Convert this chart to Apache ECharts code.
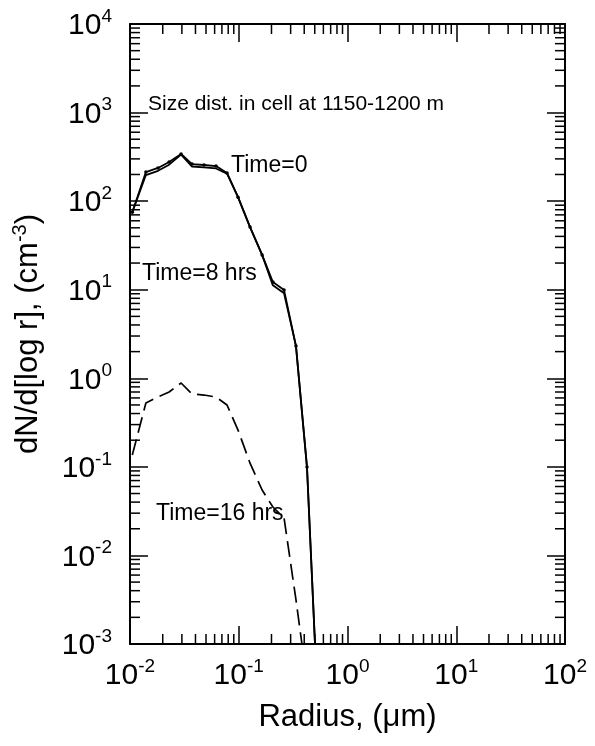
<!DOCTYPE html>
<html><head><meta charset="utf-8">
<script src="https://cdn.jsdelivr.net/npm/echarts@6/dist/echarts.min.js"></script>
<style>html,body{margin:0;padding:0;background:#fff}#c{width:595px;height:746px}</style>
</head><body><div id="c"></div>
<script>
// ---- data ----
const radius = [0.0105, 0.0140, 0.0181, 0.0229, 0.0295, 0.0372, 0.0479, 0.0618, 0.078, 0.0985, 0.127, 0.164, 0.206, 0.261, 0.336, 0.424, 0.547];
const time0  = [75, 213, 237, 277, 341, 262, 256, 249, 208, 111, 51, 24.7, 12.2, 9.9, 2.31, 0.0995, 0.0001];
const time8  = [75, 197, 220, 258, 335, 246, 240, 234, 204, 111, 51, 24.7, 11.2, 9.1, 2.31, 0.0995, 0.0001];
const time16 = [0.136, 0.526, 0.615, 0.70, 0.885, 0.664, 0.647, 0.615, 0.499, 0.26, 0.110, 0.0548, 0.0352, 0.0264, 0.00314, 0.00038];
const xMajorTicks = [0.01, 0.1, 1, 10, 100];
const yMajorTicks = [0.001, 0.01, 0.1, 1, 10, 100, 1000, 10000];
const xMinorTicks = [0.02,0.03,0.04,0.05,0.06,0.07,0.08,0.09, 0.2,0.3,0.4,0.5,0.6,0.7,0.8,0.9, 2,3,4,5,6,7,8,9, 20,30,40,50,60,70,80,90];
const yMinorTicks = [0.002,0.003,0.004,0.005,0.006,0.007,0.008,0.009, 0.02,0.03,0.04,0.05,0.06,0.07,0.08,0.09, 0.2,0.3,0.4,0.5,0.6,0.7,0.8,0.9, 2,3,4,5,6,7,8,9, 20,30,40,50,60,70,80,90, 200,300,400,500,600,700,800,900, 2000,3000,4000,5000,6000,7000,8000,9000];
const annotations = [
  {text: 'Size dist. in cell at 1150-1200 m', x: 148, y: 104, size: 21},
  {text: 'Time=0', x: 231, y: 166, size: 23},
  {text: 'Time=8 hrs', x: 142, y: 274, size: 23},
  {text: 'Time=16 hrs', x: 156, y: 514, size: 23}
];

const FONT = '"Liberation Sans", Arial, sans-serif';
const X_MIN = 0.01, X_MAX = 100, Y_MIN = 0.001, Y_MAX = 10000;
const MAJ = 18, MIN_LEN = 10;

function supLabel(v) {
  const e = Math.round(Math.log10(v));
  return '{b|10}{s|' + e + '}';
}
const labelRich = {
  b: {fontSize: 30, fontFamily: FONT, color: '#000', lineHeight: 34, verticalAlign: 'bottom'},
  s: {fontSize: 19, fontFamily: FONT, color: '#000', lineHeight: 34, verticalAlign: 'top'}
};

function logAxis(pos, isX, showLabel) {
  return {
    type: 'log', logBase: 10, position: pos,
    min: isX ? X_MIN : Y_MIN, max: isX ? X_MAX : Y_MAX,
    splitNumber: isX ? 4 : 7,
    axisLine: {show: true, onZero: false, lineStyle: {color: '#000', width: 2}},
    axisTick: {show: true, inside: true, length: MAJ, lineStyle: {color: '#000', width: 1.5}},
    minorTick: {show: false},
    splitLine: {show: false},
    axisLabel: showLabel ? {
      show: true, formatter: supLabel, rich: labelRich, margin: isX ? 13 : 18,
      showMinLabel: true, showMaxLabel: true
    } : {show: false}
  };
}

const chart = echarts.init(document.getElementById('c'), null, {renderer: 'canvas'});

const xAxes = [logAxis('bottom', true, true), logAxis('top', true, false)];
xAxes[0].name = 'Radius, (\u03bcm)';
xAxes[0].nameLocation = 'middle';
xAxes[0].nameGap = 58;
xAxes[0].nameTextStyle = {fontSize: 31, fontFamily: FONT, color: '#000'};

const yAxes = [logAxis('left', false, true), logAxis('right', false, false)];
yAxes[0].name = '{a|dN/d[log r], (cm}{s|-3}{a|)}';
yAxes[0].nameLocation = 'middle';
yAxes[0].nameGap = 86;
yAxes[0].nameRotate = 90;
yAxes[0].nameTextStyle = {
  rich: {
    a: {fontSize: 31, fontFamily: FONT, color: '#000', lineHeight: 34, verticalAlign: 'bottom'},
    s: {fontSize: 20, fontFamily: FONT, color: '#000', lineHeight: 34, verticalAlign: 'top'}
  }
};

function pairs(xs, ys) { return ys.map((y, i) => [xs[i], y]); }

const option = {
  animation: false,
  backgroundColor: '#fff',
  grid: {left: 130, top: 24, width: 435, height: 620, show: false, containLabel: false},
  xAxis: xAxes,
  yAxis: yAxes,
  series: [
    {
      type: 'line', name: 'Time=0', data: pairs(radius, time0),
      symbol: 'circle', symbolSize: 3.5, itemStyle: {color: '#000'},
      lineStyle: {color: '#000', width: 1.8}, clip: true, z: 3
    },
    {
      type: 'line', name: 'Time=8 hrs', data: pairs(radius, time8),
      symbol: 'none', lineStyle: {color: '#000', width: 1.8}, clip: true, z: 3
    },
    {
      type: 'line', name: 'Time=16 hrs', data: pairs(radius, time16),
      symbol: 'none', lineStyle: {color: '#000', width: 1.7, type: [16, 7]}, clip: true, z: 3
    },
    {
      type: 'custom', name: 'xMinor', data: xMinorTicks.map(v => [v, 1]), silent: true, z: 4,
      renderItem: function (params, api) {
        const b = api.coord([api.value(0), Y_MIN]);
        const t = api.coord([api.value(0), Y_MAX]);
        const st = {stroke: '#000', lineWidth: 1.5};
        return {type: 'group', children: [
          {type: 'line', shape: {x1: b[0], y1: b[1], x2: b[0], y2: b[1] - MIN_LEN}, style: st},
          {type: 'line', shape: {x1: t[0], y1: t[1], x2: t[0], y2: t[1] + MIN_LEN}, style: st}
        ]};
      }
    },
    {
      type: 'custom', name: 'yMinor', data: yMinorTicks.map(v => [1, v]), silent: true, z: 4,
      renderItem: function (params, api) {
        const l = api.coord([X_MIN, api.value(1)]);
        const r = api.coord([X_MAX, api.value(1)]);
        const st = {stroke: '#000', lineWidth: 1.5};
        return {type: 'group', children: [
          {type: 'line', shape: {x1: l[0], y1: l[1], x2: l[0] + MIN_LEN, y2: l[1]}, style: st},
          {type: 'line', shape: {x1: r[0], y1: r[1], x2: r[0] - MIN_LEN, y2: r[1]}, style: st}
        ]};
      }
    }
  ],
  graphic: annotations.map(a => ({
    type: 'text', x: a.x, y: a.y, silent: true,
    style: {text: a.text, fontSize: a.size, fontFamily: FONT, fill: '#000', verticalAlign: 'middle', align: 'left'}
  }))
};
chart.setOption(option);
</script>
</body></html>
